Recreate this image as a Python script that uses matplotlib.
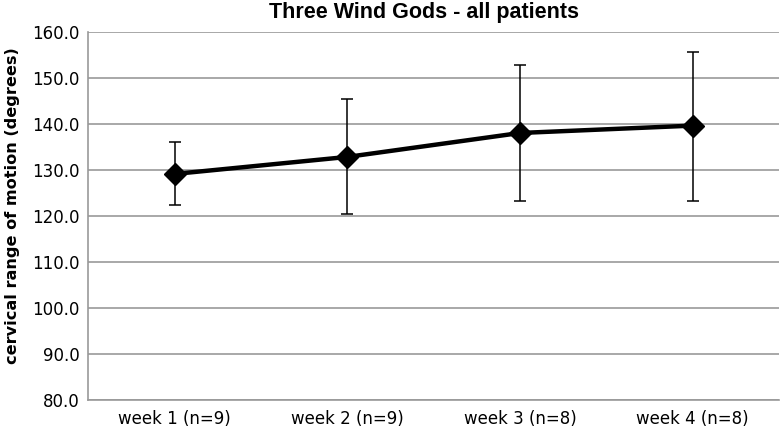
import numpy as np
import matplotlib
matplotlib.use('Agg')
import matplotlib.pyplot as plt

weeks = ['week 1 (n=9)', 'week 2 (n=9)', 'week 3 (n=8)', 'week 4 (n=8)']
means = [129.1, 132.8, 138.0, 139.6]
upper = [136.0, 145.3, 152.8, 155.5]
lower = [122.3, 120.3, 123.3, 123.3]

plt.rcParams['font.family'] = ['DejaVu Sans']

fig = plt.figure(figsize=(7.8, 4.33), dpi=100)
ax = fig.add_axes([0.1132, 0.0762, 0.8855, 0.8506])

x = np.arange(len(weeks))
yerr = [np.array(means) - np.array(lower), np.array(upper) - np.array(means)]
ax.errorbar(x, means, yerr=yerr, fmt='none', ecolor='black', elinewidth=1.1,
            capsize=4, capthick=1.1, zorder=3)
ax.plot(x, means, color='black', lw=3.2, marker='D', markersize=11, zorder=4)

ax.set_xlim(-0.5, len(weeks) - 0.5)
ax.set_ylim(80, 160)
ax.set_yticks(np.arange(80, 161, 10))
ax.set_yticklabels([f'{v:.1f}' for v in np.arange(80, 161, 10)], fontsize=12)
ax.set_xticks(x)
ax.set_xticklabels(weeks, fontsize=12)
ax.tick_params(length=0, pad=6)
ax.tick_params(axis='x', pad=7)

ax.grid(axis='y', color='#999999', lw=1.2)
ax.set_axisbelow(True)
for s in ['top', 'right']:
    ax.spines[s].set_visible(False)
for s in ['left', 'bottom']:
    ax.spines[s].set_color('#999999')
    ax.spines[s].set_linewidth(1.2)

ax.set_ylabel('cervical range of motion (degrees)', fontsize=11.6, fontweight='bold')
ax.yaxis.set_label_coords(-0.099, 0.527)
fig.text(0.543, 0.995, 'Three Wind Gods - all patients', fontsize=15.5, fontweight='bold',
         ha='center', va='top', family=['Liberation Sans', 'DejaVu Sans'])

fig.savefig('out.png', dpi=100)
